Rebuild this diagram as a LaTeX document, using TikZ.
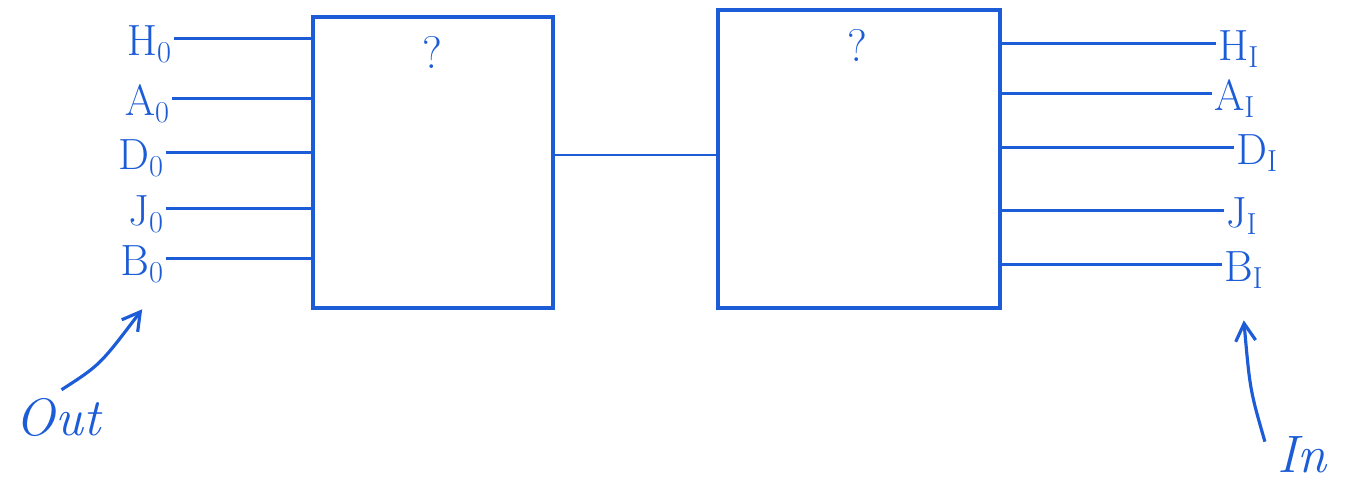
\documentclass[tikz,border=0pt]{standalone}
\usepackage{tikz}
\usetikzlibrary{arrows.meta,positioning,calc}
\definecolor{penblue}{RGB}{28,92,214}
\tikzset{
  wire/.style={draw=penblue, line width=1.4pt},
  blk/.style={draw=penblue, rectangle, line width=1.8pt},
  lbl/.style={text=penblue, font=\fontsize{26}{28}\selectfont, inner sep=1pt},
  hand/.style={text=penblue, font=\fontsize{30}{32}\selectfont\itshape, inner sep=1pt},
  arr/.style={-{Straight Barb[length=3.5mm, width=4mm]}, draw=penblue, line width=1.8pt},
}
\begin{document}
\begin{tikzpicture}[x=0.02cm, y=-0.02cm]
\useasboundingbox (0,0) rectangle (1357,489);

% Boxes
\node[blk, minimum width=4.8cm, minimum height=5.82cm] (boxA) at (433,162.5) {};
\node[blk, minimum width=5.64cm, minimum height=5.96cm] (boxB) at (859,159) {};
\node[lbl] (qA) at (432,52) {?};
\node[lbl] (qB) at (857,45) {?};

% Link between the boxes
\draw[wire] (boxA.east |- 0,155) coordinate (linkA) -- (linkA -| boxB.west);

% Left side labels
\node[lbl, anchor=east] (hO) at (174,44) {$\mathrm{H}_0$};
\node[lbl, anchor=east] (aO) at (172,104) {$\mathrm{A}_0$};
\node[lbl, anchor=east] (dO) at (166,158) {$\mathrm{D}_0$};
\node[lbl, anchor=east] (jO) at (166,214) {$\mathrm{J}_0$};
\node[lbl, anchor=east] (bO) at (166,264) {$\mathrm{B}_0$};
\foreach \n in {hO,aO,dO,jO,bO}
  \draw[wire] ([yshift=3pt]\n.east) -- ([yshift=3pt]\n.east -| boxA.west);

% Right side labels
\node[lbl, anchor=west] (hI) at (1216,49) {$\mathrm{H}_\mathrm{I}$};
\node[lbl, anchor=west] (aI) at (1212,99) {$\mathrm{A}_\mathrm{I}$};
\node[lbl, anchor=west] (dI) at (1234,153) {$\mathrm{D}_\mathrm{I}$};
\node[lbl, anchor=west] (jI) at (1224,216) {$\mathrm{J}_\mathrm{I}$};
\node[lbl, anchor=west] (bI) at (1222,270) {$\mathrm{B}_\mathrm{I}$};
\foreach \n in {hI,aI,dI,jI,bI}
  \draw[wire] ([yshift=3pt]\n.west -| boxB.east) -- ([yshift=3pt]\n.west);

% Annotations
\node[hand] (outlbl) at (58,418) {Out};
\draw[arr] ([xshift=2pt, yshift=4pt]outlbl.north) .. controls (100,365) .. ([yshift=-0.5cm]bO.south);
\node[hand] (inlbl) at (1302,455) {In};
\draw[arr] ([xshift=-6pt, yshift=-4pt]inlbl.north west) .. controls (1250,390) .. ([yshift=-0.6cm]bI.south);

\end{tikzpicture}
\end{document}
